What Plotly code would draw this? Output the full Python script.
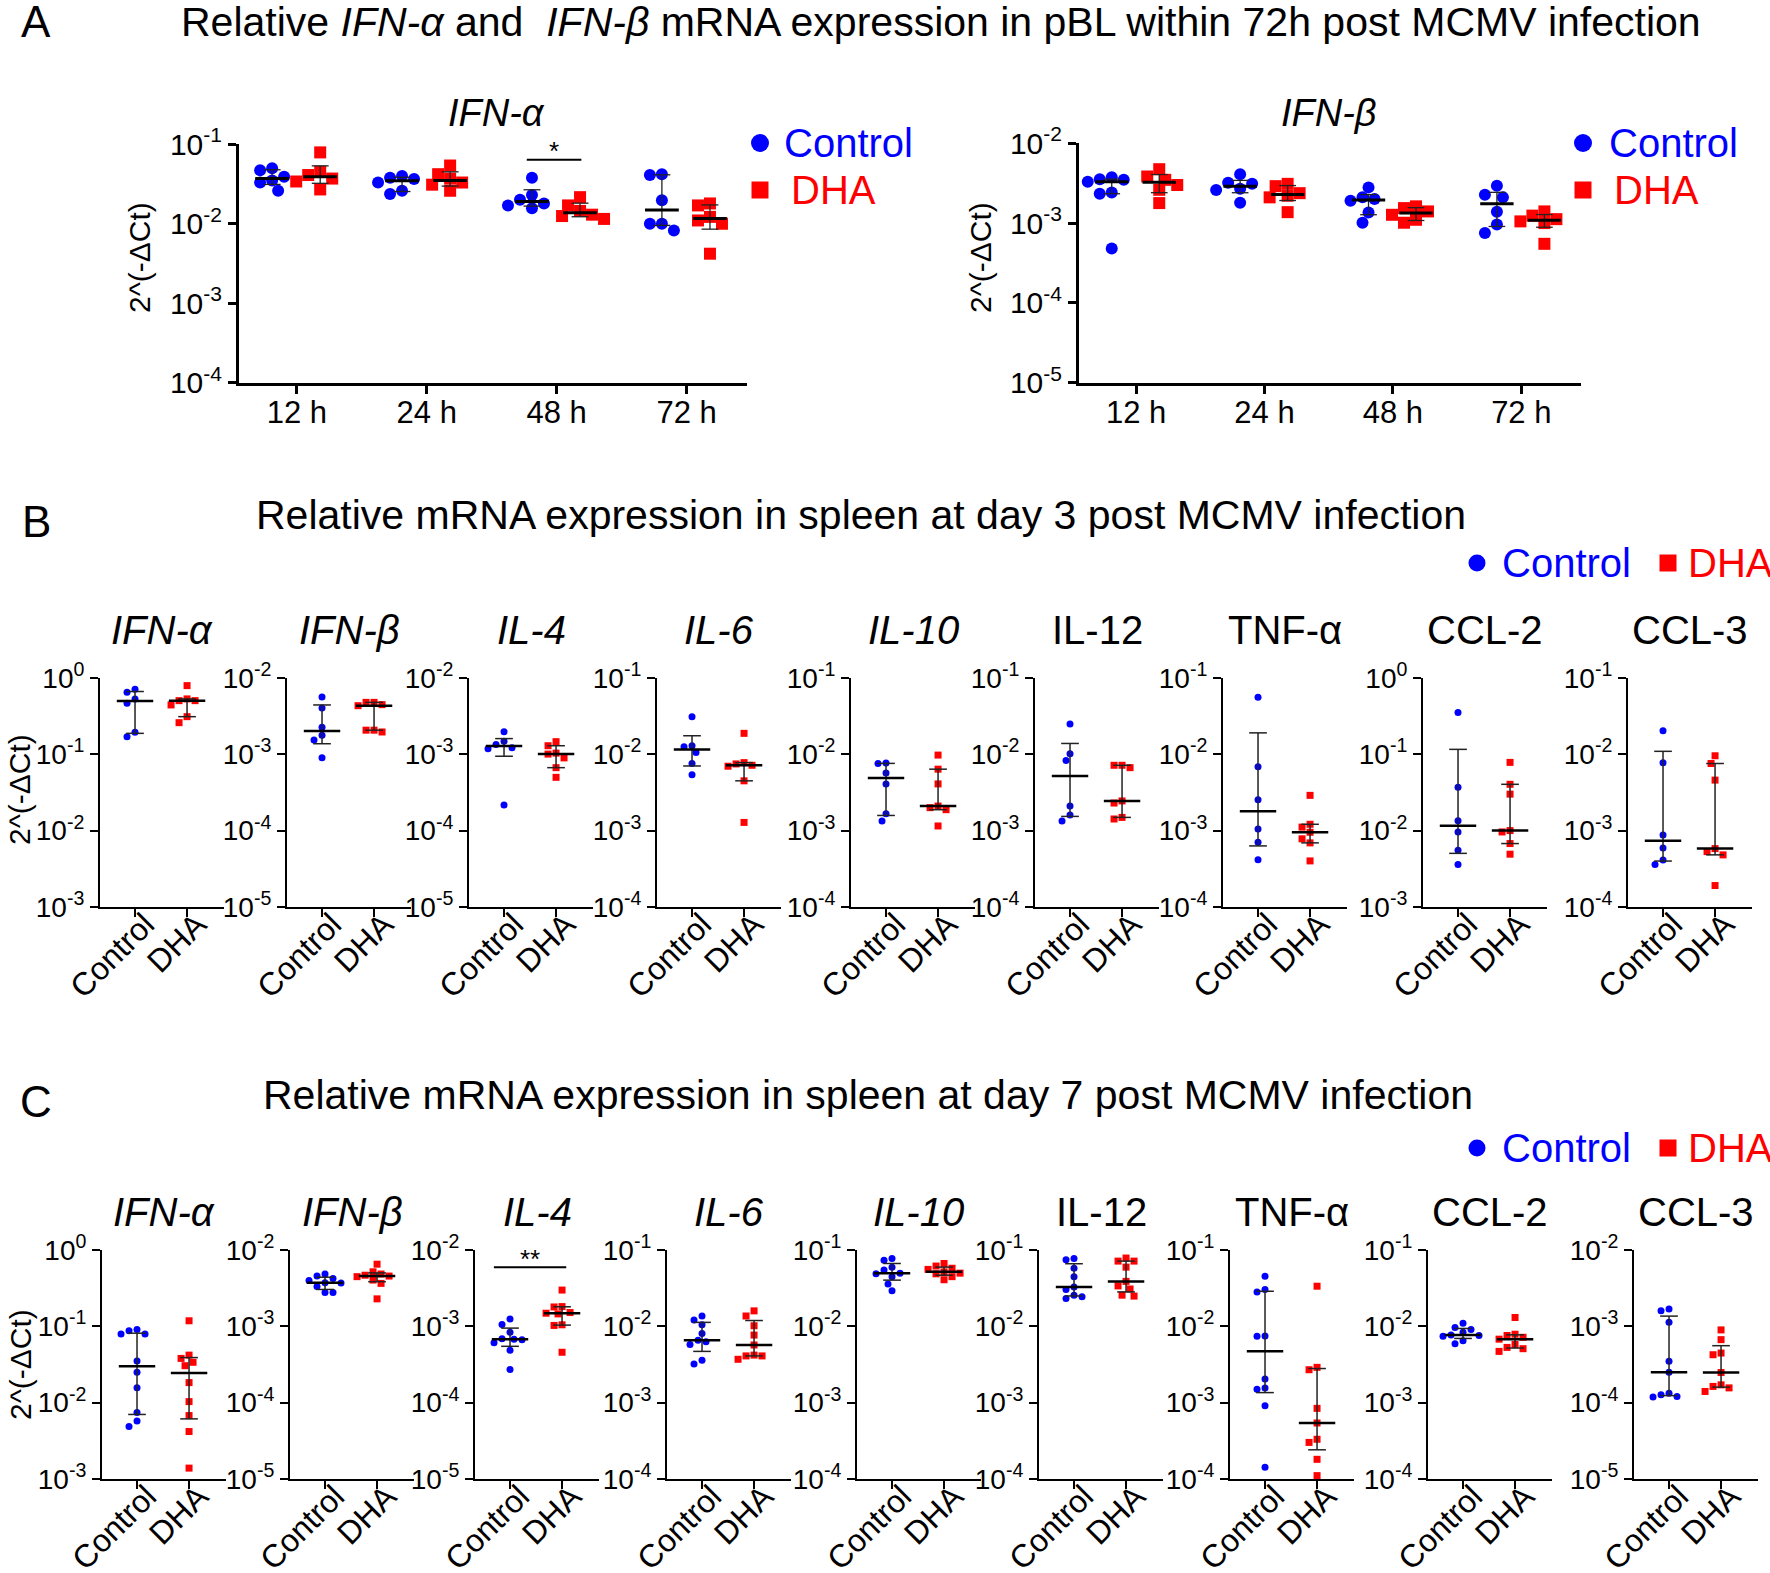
import numpy as np
import plotly.graph_objects as go

W, H = 1770, 1573
FONT = "Liberation Sans, Arial, Helvetica, sans-serif"
BLUE = "#0000FF"
RED = "#FF0000"

# ------------------------------------------------------------------ data
groups = ["Control", "DHA"]

# Panel A : pBL, 12/24/48/72 h
A_times = ["12 h", "24 h", "48 h", "72 h"]
A_genes = ["IFN-α", "IFN-β"]
A_decades = [(-1, -4), (-2, -5)]
A_ifna_ctrl = [[0.050, 0.047, 0.039, 0.035, 0.033, 0.026],
               [0.040, 0.038, 0.0365, 0.033, 0.026, 0.0237],
               [0.038, 0.023, 0.020, 0.018, 0.017, 0.0157],
               [0.042, 0.041, 0.0198, 0.0100, 0.0100, 0.0082]]
A_ifna_dha = [[0.079, 0.045, 0.041, 0.037, 0.034, 0.027],
              [0.054, 0.042, 0.037, 0.033, 0.031, 0.026],
              [0.0216, 0.017, 0.0145, 0.013, 0.0125, 0.0115],
              [0.018, 0.017, 0.0122, 0.011, 0.010, 0.0042]]
A_ifnb_ctrl = [[0.00376, 0.00355, 0.00348, 0.0033, 0.00242, 0.00233, 0.00048],
               [0.0041, 0.0032, 0.0031, 0.0027, 0.0026, 0.0018],
               [0.0028, 0.0021, 0.002, 0.0019, 0.00136, 0.00101],
               [0.00293, 0.00226, 0.0021, 0.00139, 0.00096, 0.00075]]
A_ifnb_dha = [[0.00473, 0.00383, 0.00348, 0.0030, 0.00261, 0.00178],
              [0.0031, 0.0029, 0.00237, 0.0022, 0.0021, 0.00137],
              [0.00162, 0.00154, 0.0014, 0.00127, 0.0011, 0.00101],
              [0.0014, 0.00124, 0.00112, 0.00105, 0.001, 0.00055]]
A_sig_time = 2          # 48 h
A_sig_value = 0.064
A_sig_label = "*"

# Panels B / C : spleen day 3 / day 7
genes = ["IFN-α", "IFN-β", "IL-4", "IL-6", "IL-10", "IL-12", "TNF-α", "CCL-2", "CCL-3"]
gene_italic = [True, True, True, True, True, False, False, False, False]

B_decades = [(0, -3), (-2, -5), (-2, -5), (-1, -4), (-1, -4), (-1, -4), (-1, -4), (0, -3), (-1, -4)]
B_ctrl = [[0.716, 0.654, 0.535, 0.469, 0.195, 0.171],
          [0.00565, 0.00406, 0.00228, 0.00179, 0.00154, 0.000905],
          [0.00198, 0.00149, 0.00135, 0.00122, 0.00119, 0.000216],
          [0.0313, 0.013, 0.0126, 0.0106, 0.0076, 0.0054],
          [0.0077, 0.0076, 0.0057, 0.0041, 0.00166, 0.00134],
          [0.0251, 0.0102, 0.0083, 0.0021, 0.0016, 0.00134],
          [0.0561, 0.00687, 0.00254, 0.00105, 0.000701, 0.000414],
          [0.355, 0.037, 0.0135, 0.0096, 0.0055, 0.0036],
          [0.0205, 0.0078, 0.000877, 0.000592, 0.000411, 0.00036]]
B_dha = [[0.80, 0.535, 0.508, 0.508, 0.446, 0.313, 0.261],
         [0.00482, 0.00482, 0.0045, 0.00436, 0.00208, 0.00208, 0.00197],
         [0.00147, 0.0013, 0.00104, 0.00101, 0.0009, 0.00067, 0.0005],
         [0.0189, 0.0078, 0.0075, 0.0072, 0.007, 0.0045, 0.00128],
         [0.0098, 0.0064, 0.0041, 0.0021, 0.002, 0.00188, 0.00115],
         [0.0072, 0.0072, 0.0067, 0.00245, 0.0023, 0.00149, 0.00142],
         [0.0029, 0.00121, 0.00111, 0.00095, 0.00078, 0.00069, 0.0004],
         [0.0786, 0.0405, 0.0301, 0.01, 0.0096, 0.00676, 0.0049],
         [0.0096, 0.0076, 0.0046, 0.00058, 0.00053, 0.00048, 0.00019]]

C_decades = [(0, -3), (-2, -5), (-2, -5), (-1, -4), (-1, -4), (-1, -4), (-1, -4), (-1, -4), (-2, -5)]
C_ctrl = [[0.0914, 0.0878, 0.0794, 0.0794, 0.0352, 0.025, 0.0157, 0.0074, 0.00575, 0.00485],
          [0.00487, 0.00458, 0.00427, 0.0040, 0.00375, 0.00372, 0.00333, 0.00278, 0.00278],
          [0.00125, 0.00106, 0.00084, 0.00069, 0.00068, 0.00067, 0.00061, 0.000486, 0.000272],
          [0.0137, 0.0121, 0.0105, 0.0081, 0.0066, 0.0063, 0.0058, 0.0036, 0.0032],
          [0.078, 0.074, 0.060, 0.055, 0.050, 0.049, 0.045, 0.036, 0.0293],
          [0.078, 0.075, 0.058, 0.045, 0.033, 0.0305, 0.0257, 0.0245, 0.0233],
          [0.0456, 0.0306, 0.0284, 0.0075, 0.0074, 0.00204, 0.00156, 0.0015, 0.00091, 0.000142],
          [0.011, 0.0097, 0.0091, 0.0084, 0.0077, 0.0076, 0.0074, 0.0065, 0.0059],
          [0.00169, 0.0016, 0.00113, 0.00035, 0.00025, 0.000133, 0.000127, 0.00012, 0.000118]]
C_dha = [[0.1186, 0.042, 0.038, 0.0338, 0.0305, 0.0183, 0.0103, 0.00676, 0.00417, 0.00138],
         [0.00656, 0.00521, 0.00487, 0.0047, 0.00458, 0.0045, 0.00406, 0.00367, 0.0023],
         [0.003, 0.00182, 0.0018, 0.00152, 0.00149, 0.00146, 0.00105, 0.00103, 0.000458],
         [0.016, 0.0137, 0.0102, 0.0077, 0.0057, 0.0042, 0.0041, 0.0041, 0.0037],
         [0.067, 0.062, 0.058, 0.056, 0.052, 0.05, 0.049, 0.045, 0.041],
         [0.079, 0.072, 0.072, 0.06, 0.039, 0.034, 0.031, 0.0257, 0.025],
         [0.0337, 0.0029, 0.0027, 0.00084, 0.00054, 0.00033, 0.0003, 0.00018, 0.00011],
         [0.0131, 0.0079, 0.0076, 0.0072, 0.0068, 0.0058, 0.0053, 0.0051, 0.0047],
         [0.0009, 0.00067, 0.000447, 0.000425, 0.000248, 0.000171, 0.000163, 0.000156, 0.00014]]
C_sig_gene = 2          # IL-4
C_sig_value = 0.006
C_sig_label = "**"

titles = [
    "Relative <i>IFN-α</i> and \u00a0<i>IFN-β</i> mRNA expression in pBL within 72h post MCMV infection",
    "Relative mRNA expression in spleen at day 3 post MCMV infection",
    "Relative mRNA expression in spleen at day 7 post MCMV infection",
]
panel_letters = ["A", "B", "C"]
ytitle = "2^(-ΔCt)"

# ------------------------------------------------------------------ layout geometry (pixels)
A_boxes = [(239, 747, 144, 383), (1079, 1581, 143, 383)]
A_xrange = [-0.445, 3.465]
A_offsets = [-0.19, 0.18]
B_left = [100, 287, 469, 657, 851, 1035, 1223, 1423, 1628]
C_left = [102, 290, 475, 667, 857, 1039, 1230, 1428, 1634]
SUB_W = 124
B_top, B_bot = 678, 907
C_top, C_bot = 1250, 1479
BC_xrange = [-0.673, 1.71]


def px(x):
    return x / W


def py(y):
    return 1 - y / H


def stats(v):
    v = np.asarray(v, float)
    return (np.median(v),
            np.percentile(v, 25, method="weibull"),
            np.percentile(v, 75, method="weibull"))


def swarm(values, dec_px, unit_px, d):
    ypix = -np.log10(np.asarray(values, float)) * dec_px
    order = np.argsort(ypix, kind="stable")
    cands = [0.0]
    for k in range(1, 30):
        cands += [-k * d / 2, k * d / 2]
    placed = []
    offs = np.zeros(len(values))
    for i in order:
        for c in cands:
            if all((c - a) ** 2 + (ypix[i] - b) ** 2 >= (0.97 * d) ** 2 for a, b in placed):
                offs[i] = c
                placed.append((c, ypix[i]))
                break
    return offs / unit_px


fig = go.Figure()
layout = {}
annotations = []
shapes = []


def names(i):
    if i == 1:
        return "x", "y", "xaxis", "yaxis"
    return f"x{i}", f"y{i}", f"xaxis{i}", f"yaxis{i}"


def setup_axes(i, x0, x1, ytop, ybot, dec, xr, tickvals, ticktext, tickangle, lw,
               ytick_size, xtick_size, xshift=0, xstandoff=0):
    xn, yn, xk, yk = names(i)
    top, bot = dec
    exps = list(range(bot, top + 1))
    layout[xk] = dict(domain=[px(x0), px(x1)], anchor=yn, range=xr, automargin=False,
                      showline=True, linecolor="black", linewidth=lw,
                      ticks="outside", ticklen=8, tickwidth=lw, tickcolor="black",
                      tickmode="array", tickvals=tickvals, ticktext=ticktext,
                      tickangle=tickangle, ticklabelshift=xshift, ticklabelstandoff=xstandoff,
                      tickfont=dict(family=FONT, size=xtick_size, color="black"),
                      showgrid=False, zeroline=False, fixedrange=True)
    layout[yk] = dict(domain=[py(ybot), py(ytop)], anchor=xn, type="log", automargin=False,
                      range=[bot - 0.003, top + 0.003],
                      showline=True, linecolor="black", linewidth=lw,
                      ticks="outside", ticklen=8, tickwidth=lw, tickcolor="black",
                      tickmode="array", tickvals=[10.0 ** e for e in exps],
                      ticktext=[f"10<sup>{e}</sup>" for e in exps],
                      tickfont=dict(family=FONT, size=ytick_size, color="black"),
                      showgrid=False, zeroline=False, fixedrange=True)
    return xn, yn


def draw_groups(xn, yn, centers, data_lists, colors, symbols, msize, dec_px, unit_px, d,
                med_half, cap_half, med_w, err_w):
    for xc_list, vals_list, col, sym in zip(centers, data_lists, colors, symbols):
        mx, my = [], []
        lx, ly = [], []
        ex, ey = [], []
        for xc, vals in zip(xc_list, vals_list):
            offs = swarm(vals, dec_px, unit_px, d)
            mx += list(xc + offs)
            my += list(vals)
            med, q1, q3 = stats(vals)
            lx += [xc - med_half, xc + med_half, None]
            ly += [med, med, None]
            ex += [xc, xc, None, xc - cap_half, xc + cap_half, None, xc - cap_half, xc + cap_half, None]
            ey += [q1, q3, None, q1, q1, None, q3, q3, None]
        fig.add_trace(go.Scatter(x=mx, y=my, mode="markers", xaxis=xn, yaxis=yn,
                                 marker=dict(color=col, symbol=sym, size=msize, line=dict(width=0)),
                                 showlegend=False, hoverinfo="skip"))
        fig.add_trace(go.Scatter(x=ex, y=ey, mode="lines", xaxis=xn, yaxis=yn,
                                 line=dict(color="#222222", width=err_w),
                                 showlegend=False, hoverinfo="skip"))
        fig.add_trace(go.Scatter(x=lx, y=ly, mode="lines", xaxis=xn, yaxis=yn,
                                 line=dict(color="black", width=med_w),
                                 showlegend=False, hoverinfo="skip"))


def text(x, y, s, size, color="black", xanchor="center", yanchor="middle", angle=0, **kw):
    annotations.append(dict(x=px(x), y=py(y), xref="paper", yref="paper", text=s,
                            showarrow=False, xanchor=xanchor, yanchor=yanchor,
                            textangle=angle,
                            font=dict(family=FONT, size=size, color=color), **kw))


def legend_marker(cx, cy, kind, size, color):
    r = size / 2
    shapes.append(dict(type="circle" if kind == "circle" else "rect", xref="paper", yref="paper",
                       x0=px(cx - r), x1=px(cx + r), y0=py(cy + r), y1=py(cy - r),
                       fillcolor=color, line=dict(width=0)))


# ------------------------------------------------------------------ panel A
idx = 1
A_data = [(A_ifna_ctrl, A_ifna_dha), (A_ifnb_ctrl, A_ifnb_dha)]
A_title_x = [497, 1329]
A_ytitle_x = [139, 980]
A_leg = [(760, 782, 789), (1583, 1607, 1612)]
for k, (box, dec, (dc, dd)) in enumerate(zip(A_boxes, A_decades, A_data)):
    x0, x1, yt, yb = box
    xn, yn = setup_axes(idx, x0, x1, yt, yb, dec, A_xrange, list(range(len(A_times))), A_times,
                        0, 3, 30, 31, xstandoff=-8)
    dec_px = (yb - yt) / (dec[0] - dec[1])
    unit_px = (x1 - x0) / (A_xrange[1] - A_xrange[0])
    cen = [[t + A_offsets[0] for t in range(len(A_times))],
           [t + A_offsets[1] for t in range(len(A_times))]]
    draw_groups(xn, yn, cen, [dc, dd], [BLUE, RED], ["circle", "square"], 12,
                dec_px, unit_px, 12, 0.13, 0.065, 3, 1.3)
    if k == 0:
        sx = [A_sig_time + A_offsets[0] - 0.04, A_sig_time + A_offsets[1] + 0.01]
        fig.add_trace(go.Scatter(x=sx, y=[A_sig_value, A_sig_value], mode="lines",
                                 xaxis=xn, yaxis=yn, line=dict(color="black", width=2),
                                 showlegend=False, hoverinfo="skip"))
        annotations.append(dict(x=sum(sx) / 2, y=np.log10(A_sig_value), xref=xn, yref=yn,
                                text=A_sig_label, showarrow=False, yanchor="bottom", yshift=-8,
                                font=dict(family=FONT, size=26, color="black")))
    text(A_title_x[k], 113, f"<i>{A_genes[k]}</i>", 38)
    text(A_ytitle_x[k], 258, ytitle, 30, angle=-90)
    lx, tcx, tdx = A_leg[k]
    legend_marker(lx, 143, "circle", 18, BLUE)
    legend_marker(lx, 190, "square", 17, RED)
    text(tcx, 143, groups[0], 40, BLUE, xanchor="left")
    text(tdx, 190, groups[1], 40, RED, xanchor="left")
    idx += 1

# ------------------------------------------------------------------ panels B and C
for lefts, top, bot, decs, dctrl, ddha, title_y in [
        (B_left, B_top, B_bot, B_decades, B_ctrl, B_dha, 630),
        (C_left, C_top, C_bot, C_decades, C_ctrl, C_dha, 1212)]:
    for g, (x0, dec, vc, vd) in enumerate(zip(lefts, decs, dctrl, ddha)):
        x1 = x0 + SUB_W
        xn, yn = setup_axes(idx, x0, x1, top, bot, dec, BC_xrange, [0, 1], groups, -45, 2, 28, 32,
                            xshift=10, xstandoff=-24)
        dec_px = (bot - top) / (dec[0] - dec[1])
        unit_px = SUB_W / (BC_xrange[1] - BC_xrange[0])
        draw_groups(xn, yn, [[0], [1]], [[vc], [vd]], [BLUE, RED], ["circle", "square"], 7,
                    dec_px, unit_px, 8, 0.35, 0.17, 2.5, 1.5)
        gname = f"<i>{genes[g]}</i>" if gene_italic[g] else genes[g]
        text(x0 + SUB_W / 2, title_y, gname, 40)
        if lefts is C_left and g == C_sig_gene:
            sx = [-0.31, 1.08]
            fig.add_trace(go.Scatter(x=sx, y=[C_sig_value, C_sig_value], mode="lines",
                                     xaxis=xn, yaxis=yn, line=dict(color="black", width=2),
                                     showlegend=False, hoverinfo="skip"))
            annotations.append(dict(x=sum(sx) / 2, y=np.log10(C_sig_value), xref=xn, yref=yn,
                                    text=C_sig_label, showarrow=False, yanchor="bottom", yshift=-9,
                                    font=dict(family=FONT, size=26, color="black")))
        idx += 1

# y titles and legends for B, C
text(20, 790, ytitle, 30, angle=-90)
text(20, 1365, ytitle, 30, angle=-90)
for ly in [563, 1148]:
    legend_marker(1477, ly, "circle", 17, BLUE)
    legend_marker(1668, ly, "square", 17, RED)
    text(1500, ly, groups[0], 40, BLUE, xanchor="left")
    text(1686, ly, groups[1], 40, RED, xanchor="left")

# main titles + panel letters
text(941, 22, titles[0], 41)
text(861, 515, titles[1], 41)
text(868, 1095, titles[2], 41)
text(36, 21, panel_letters[0], 44)
text(36, 521, panel_letters[1], 44)
text(36, 1101, panel_letters[2], 44)

fig.update_layout(width=W, height=H, margin=dict(l=0, r=0, t=0, b=0, autoexpand=False),
                  paper_bgcolor="white", plot_bgcolor="white",
                  font=dict(family=FONT, color="black"),
                  showlegend=False, annotations=annotations, shapes=shapes, **layout)
fig.write_html("out.html", config={"displayModeBar": False},
               post_script="document.body.style.margin='0';document.body.style.padding='0';")
